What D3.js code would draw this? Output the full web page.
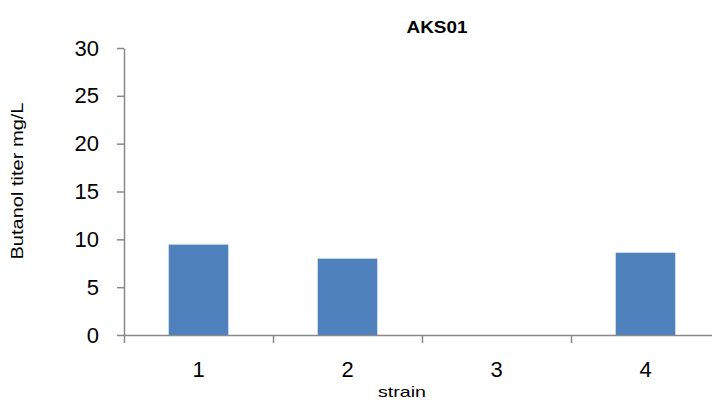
<!DOCTYPE html>
<html>
<head>
<meta charset="utf-8">
<script src="https://cdn.jsdelivr.net/npm/d3@7"></script>
<style>
  html, body { margin: 0; padding: 0; background: #fff; }
  svg { display: block; }
  text { font-family: "Liberation Sans", Arial, sans-serif; fill: #000; }
</style>
</head>
<body>
<svg id="chart" width="712" height="400"></svg>
<script>
// ---- data ----
const categories = ["1", "2", "3", "4"];
const values = [9.45, 7.98, 0, 8.6];
const yTicks = [0, 5, 10, 15, 20, 25, 30];
const title = "AKS01";
const xTitle = "strain";
const yTitle = "Butanol titer mg/L";

// ---- layout ----
const svg = d3.select("#chart");
const mLeft = 124, mRight = 720, mTop = 48, mBottom = 335;
const axisColor = "#898989";
const barColor = "#4f81bd";

const x = d3.scaleBand().domain(categories).range([mLeft, mRight])
  .paddingInner(0.6).paddingOuter(0.3);
const xb = d3.scaleLinear().domain([0, categories.length]).range([mLeft, mRight]);
const y = d3.scaleLinear().domain([0, 30]).range([mBottom, mTop]);

// bars
svg.append("g").selectAll("rect").data(values).join("rect")
  .attr("x", (d, i) => x(categories[i]))
  .attr("width", x.bandwidth())
  .attr("y", d => y(d))
  .attr("height", d => y(0) - y(d))
  .attr("fill", barColor);

// y axis
const yAxis = svg.append("g").attr("transform", `translate(${mLeft},0)`)
  .call(d3.axisLeft(y).tickValues(yTicks).tickSize(7).tickPadding(18).tickSizeOuter(0));
yAxis.select(".domain").attr("stroke", axisColor).attr("stroke-width", 1.5);
yAxis.selectAll(".tick line").attr("stroke", axisColor).attr("stroke-width", 1.5);
yAxis.selectAll(".tick text").attr("font-size", 22).attr("font-family", "Liberation Sans, Arial, sans-serif").attr("fill", "#000");

// x axis: boundary ticks
const xAxisTicks = svg.append("g").attr("transform", `translate(0,${mBottom})`)
  .call(d3.axisBottom(xb).tickValues(d3.range(categories.length + 1)).tickSize(8).tickSizeOuter(0).tickFormat(""));
xAxisTicks.select(".domain").attr("stroke", axisColor).attr("stroke-width", 1.5);
xAxisTicks.selectAll(".tick line").attr("stroke", axisColor).attr("stroke-width", 1.5);

// x axis: category labels
const xAxisLabels = svg.append("g").attr("transform", `translate(0,${mBottom})`)
  .call(d3.axisBottom(x).tickSize(0).tickPadding(26));
xAxisLabels.select(".domain").remove();
xAxisLabels.selectAll(".tick text").attr("font-size", 22).attr("font-family", "Liberation Sans, Arial, sans-serif").attr("fill", "#000");

// title
svg.append("text").text(title)
  .attr("x", 437).attr("y", 33.3)
  .attr("text-anchor", "middle")
  .attr("font-weight", "bold").attr("font-size", 16)
  .attr("textLength", 61).attr("lengthAdjust", "spacingAndGlyphs");

// x title
svg.append("text").text(xTitle)
  .attr("x", 402).attr("y", 397)
  .attr("text-anchor", "middle")
  .attr("font-size", 15)
  .attr("textLength", 48).attr("lengthAdjust", "spacingAndGlyphs");

// y title
svg.append("text").text(yTitle)
  .attr("transform", "translate(23,181) rotate(-90)")
  .attr("text-anchor", "middle")
  .attr("font-size", 16)
  .attr("textLength", 157).attr("lengthAdjust", "spacingAndGlyphs");
</script>
</body>
</html>
